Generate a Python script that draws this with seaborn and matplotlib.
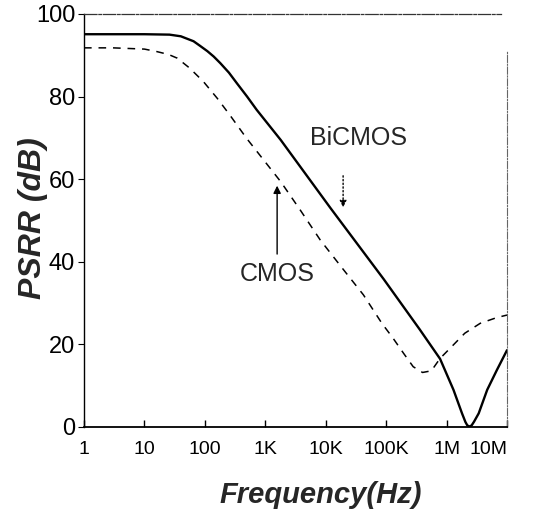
import numpy as np
import pandas as pd
import matplotlib
matplotlib.use('Agg')
import matplotlib.pyplot as plt
import seaborn as sns
from matplotlib import font_manager
from matplotlib.ticker import NullLocator

# values (Hz, dB)
bicmos_freq = [1, 10, 26, 40, 65, 83, 110, 140, 180, 250, 340, 500, 720, 1800, 12000,
               91000, 360000, 780000, 1.3e6, 1.8e6, 2.05e6, 2.2e6, 2.4e6, 2.6e6,
               2.85e6, 3.4e6, 4.7e6, 6.8e6, 1e7]
bicmos_db = [95.1, 95.1, 95.0, 94.6, 93.4, 92.3, 91.0, 89.7, 88.1, 85.8, 83.2, 80.0, 76.8, 69.5, 53.0,
             35.8, 23.6, 16.5, 9.0, 3.3, 1.2, 0.4, 0.1, 0.4,
             1.3, 3.3, 9.0, 13.8, 18.6]

cmos_freq = [1, 3, 10, 16, 25, 35, 56, 95, 160, 260, 490, 1800, 3800, 8100, 18000, 42000,
             85000, 130000, 195000, 280000, 400000, 560000, 780000, 1.3e6, 2.0e6, 3.6e6,
             6.8e6, 1e7]
cmos_db = [91.8, 91.8, 91.5, 90.9, 90.2, 89.3, 86.9, 83.6, 79.6, 75.5, 69.9, 59.4, 52.5, 45.3, 38.8, 32.0,
           25.1, 21.5, 17.8, 14.6, 13.2, 13.6, 16.6, 19.9, 22.7, 25.1,
           26.5, 27.1]

xticks = [1, 10, 100, 1e3, 1e4, 1e5, 1e6, 1e7]
xtick_labels = ['1', '10', '100', '1K', '10K', '100K', '1M', '10M']
yticks = [0, 20, 40, 60, 80, 100]

sns.set_style('ticks')
names = {f.name for f in font_manager.fontManager.ttflist}
narrow = 'Liberation Sans Narrow' if 'Liberation Sans Narrow' in names else 'Liberation Sans'
plt.rcParams['font.family'] = ['Liberation Sans', 'DejaVu Sans']

fig = plt.figure(figsize=(5.35, 5.18), dpi=100)
ax = fig.add_axes([0.157, 0.1757, 0.7907, 0.7973])

df_b = pd.DataFrame({'freq': bicmos_freq, 'psrr': bicmos_db})
df_c = pd.DataFrame({'freq': cmos_freq, 'psrr': cmos_db})

sns.lineplot(data=df_b, x='freq', y='psrr', color='black', lw=1.7,
             estimator=None, sort=False, ax=ax)
sns.lineplot(data=df_c, x='freq', y='psrr', color='black', lw=1.1,
             linestyle=(0, (5, 4.5)), estimator=None, sort=False, ax=ax)

ax.set_xscale('log')
ax.set_xlim(1, 1e7)
ax.set_ylim(0, 100)

ax.set_xticks(xticks)
ax.set_xticklabels(xtick_labels, fontfamily=narrow, fontsize=14)
ax.get_xticklabels()[-1].set_ha('right')
ax.xaxis.set_minor_locator(NullLocator())
ax.set_yticks(yticks)
ax.set_yticklabels([str(v) for v in yticks], fontfamily=narrow, fontsize=17)
ax.tick_params(axis='x', direction='in', length=5, width=1, pad=10, colors='black')
ax.tick_params(axis='y', direction='out', length=4.3, width=0.8, pad=2, colors='black')

# frame: solid left/bottom, faint broken top/right
ax.spines['left'].set_linewidth(1.0)
ax.spines['bottom'].set_linewidth(1.3)
for s in ['left', 'bottom']:
    ax.spines[s].set_color('black')
ax.spines['top'].set_linewidth(0.9)
ax.spines['top'].set_color('#333333')
ax.spines['top'].set_linestyle((0, (10, 1.5, 2, 1.5)))
ax.spines['top'].set_bounds(1, 8e6)
ax.spines['right'].set_linewidth(0.8)
ax.spines['right'].set_color('#666666')
ax.spines['right'].set_linestyle('-.')
ax.spines['right'].set_bounds(0, 91)

ax.set_xlabel('Frequency(Hz)', fontsize=21, fontweight='bold', fontstyle='italic')
ax.xaxis.set_label_coords(0.56, -0.131)
ax.set_ylabel('PSRR (dB)', fontsize=23, fontweight='bold', fontstyle='italic')
ax.yaxis.set_label_coords(-0.085, 0.506)

# labels with arrows
ax.annotate('', xy=(1570, 59.1), xytext=(1570, 41.2),
            arrowprops=dict(arrowstyle='-|>', color='black', lw=1.0, mutation_scale=11))
ax.text(1570, 37.0, 'CMOS', ha='center', va='center', fontsize=18)
ax.annotate('', xy=(19400, 52.5), xytext=(19400, 61.5),
            arrowprops=dict(arrowstyle='-|>', color='black', lw=1.0, linestyle=':',
                            mutation_scale=10))
ax.text(35600, 70.0, 'BiCMOS', ha='center', va='center', fontsize=18)

fig.savefig('out.png', dpi=100)
